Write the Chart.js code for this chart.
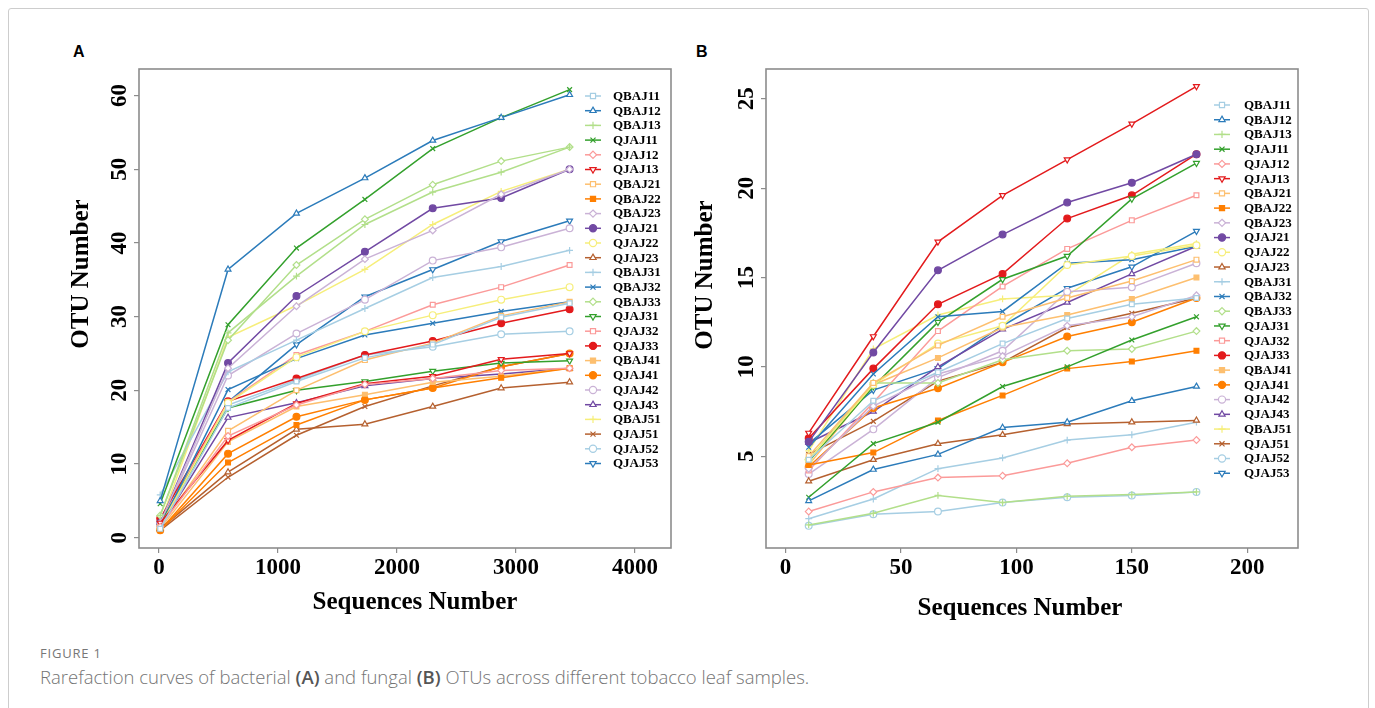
<!DOCTYPE html>
<html>
<head>
<meta charset="utf-8">
<title>Rarefaction curves</title>
<script src="https://cdn.jsdelivr.net/npm/chart.js@4.4.1/dist/chart.umd.min.js"></script>
<style>
  html, body { margin: 0; padding: 0; background: #fff; }
  body { width: 1375px; height: 708px; position: relative; overflow: hidden; font-family: 'Open Sans', sans-serif; }
  .frame { position: absolute; left: 8px; top: 8px; width: 1359px; height: 740px; border: 1px solid #cdcdcd; border-radius: 3px; }
  .tag { position: absolute; top: 42px; font: bold 16px 'Liberation Sans', Arial, sans-serif; color: #000; line-height: 20px; }
  .plot { position: absolute; top: 40px; height: 600px; }
  #wrapA { left: 40px; width: 640px; }
  #wrapB { left: 680px; width: 660px; }
  .fig-no { position: absolute; left: 40px; top: 644px; font-size: 13px; color: #777; letter-spacing: 0.8px; }
  .caption { position: absolute; left: 40px; top: 664px; font-size: 18.5px; color: #747474; font-weight: 300; }
  .caption b { font-weight: 600; color: #555; }
</style>
</head>
<body>
<div class="frame"></div>
<div class="tag" style="left:73px">A</div>
<div class="tag" style="left:696px">B</div>
<div class="plot" id="wrapA"><canvas id="chartA" width="640" height="600"></canvas></div>
<div class="plot" id="wrapB"><canvas id="chartB" width="660" height="600"></canvas></div>
<div class="fig-no">FIGURE 1</div>
<div class="caption">Rarefaction curves of bacterial <b>(A)</b> and fungal <b>(B)</b> OTUs across different tobacco leaf samples.</div>

<script>
const samples = ['QBAJ11', 'QBAJ12', 'QBAJ13', 'QJAJ11', 'QJAJ12', 'QJAJ13', 'QBAJ21', 'QBAJ22', 'QBAJ23',
  'QJAJ21', 'QJAJ22', 'QJAJ23', 'QBAJ31', 'QBAJ32', 'QBAJ33', 'QJAJ31', 'QJAJ32', 'QJAJ33', 'QBAJ41',
  'QJAJ41', 'QJAJ42', 'QJAJ43', 'QBAJ51', 'QJAJ51', 'QJAJ52', 'QJAJ53'];

// bacterial (A): sequencing depth and OTUs per sample, rows follow `samples`
const seqA = [10, 580, 1155, 1730, 2300, 2875, 3450];
const otuA = [
  [1.2, 17.6, 21.2, 24.4, 26.2, 29.9, 31.8],
  [5.0, 36.4, 44.0, 48.8, 53.9, 57.0, 60.1],
  [3.0, 27.8, 35.5, 42.5, 46.9, 49.6, 53.0],
  [4.6, 28.9, 39.3, 45.9, 52.8, 57.0, 60.8],
  [1.5, 13.8, 18.0, 20.8, 21.6, 22.7, 23.0],
  [2.0, 13.2, 18.2, 20.9, 21.9, 24.2, 25.0],
  [1.5, 14.5, 20.0, 24.1, 26.4, 30.1, 32.0],
  [1.0, 10.2, 15.3, 18.7, 20.3, 21.7, 23.0],
  [2.0, 23.0, 31.4, 37.8, 41.7, 46.6, 50.0],
  [2.0, 23.7, 32.8, 38.8, 44.7, 46.1, 50.0],
  [1.5, 18.3, 24.5, 28.0, 30.2, 32.3, 34.0],
  [1.2, 8.9, 14.7, 15.4, 17.8, 20.3, 21.1],
  [5.8, 22.5, 26.8, 31.1, 35.3, 36.8, 39.0],
  [1.5, 20.1, 24.3, 27.5, 29.1, 30.7, 32.0],
  [3.0, 26.8, 37.0, 43.2, 47.9, 51.1, 53.0],
  [2.0, 17.6, 20.0, 21.2, 22.6, 23.7, 24.0],
  [2.0, 18.4, 24.8, 28.0, 31.6, 34.0, 37.0],
  [2.6, 18.5, 21.6, 24.8, 26.7, 29.1, 31.0],
  [1.2, 13.0, 17.8, 19.4, 21.1, 21.9, 23.0],
  [1.0, 11.4, 16.4, 18.7, 20.3, 23.2, 25.0],
  [1.8, 22.0, 27.7, 32.3, 37.6, 39.4, 42.0],
  [1.5, 16.3, 18.3, 20.6, 21.6, 22.2, 23.0],
  [2.0, 27.2, 31.5, 36.4, 42.5, 47.0, 50.0],
  [1.0, 8.2, 13.9, 17.8, 20.6, 23.2, 25.0],
  [1.5, 18.0, 21.4, 24.8, 25.9, 27.6, 28.0],
  [1.5, 18.4, 26.2, 32.7, 36.4, 40.2, 43.0]
];

// fungal (B)
const seqB = [10, 38, 66, 94, 122, 150, 178];
const otuB = [
  [4.8, 8.1, 9.7, 11.3, 12.7, 13.5, 13.85],
  [2.5, 4.25, 5.1, 6.6, 6.9, 8.1, 8.9],
  [1.15, 1.8, 2.8, 2.4, 2.75, 2.85, 3.0],
  [2.7, 5.7, 6.9, 8.9, 10.0, 11.5, 12.8],
  [1.9, 3.0, 3.8, 3.9, 4.6, 5.5, 5.9],
  [6.3, 11.7, 17.0, 19.6, 21.6, 23.6, 25.7],
  [5.0, 9.1, 11.2, 12.8, 13.85, 14.8, 16.0],
  [4.5, 5.2, 7.0, 8.4, 9.9, 10.3, 10.9],
  [4.3, 7.8, 9.6, 10.6, 12.3, 12.8, 14.0],
  [5.8, 10.8, 15.4, 17.4, 19.2, 20.3, 21.9],
  [4.8, 9.0, 11.3, 12.3, 15.7, 16.2, 16.8],
  [3.6, 4.8, 5.7, 6.2, 6.8, 6.9, 7.0],
  [1.5, 2.6, 4.3, 4.9, 5.9, 6.2, 6.9],
  [5.5, 9.6, 12.8, 13.1, 15.8, 16.0, 16.75],
  [4.8, 9.1, 9.1, 10.4, 10.9, 11.0, 12.0],
  [4.7, 8.9, 12.5, 14.9, 16.2, 19.4, 21.4],
  [4.2, 8.0, 12.0, 14.5, 16.6, 18.2, 19.6],
  [6.0, 9.9, 13.5, 15.2, 18.3, 19.6, 21.9],
  [4.5, 9.0, 10.5, 12.2, 12.9, 13.8, 15.0],
  [4.4, 7.7, 8.8, 10.25, 11.7, 12.5, 13.85],
  [4.0, 6.5, 9.4, 10.9, 14.2, 14.45, 15.8],
  [5.75, 7.5, 10.0, 12.1, 13.6, 15.2, 16.75],
  [5.3, 11.0, 12.9, 13.8, 14.0, 16.3, 16.9],
  [5.1, 6.95, 9.2, 10.25, 12.2, 13.0, 13.85],
  [1.1, 1.75, 1.9, 2.4, 2.7, 2.8, 3.0],
  [5.7, 8.7, 9.9, 12.3, 14.4, 15.6, 17.6]
];

const xTicksA = [0, 1000, 2000, 3000, 4000];
const yTicksA = [0, 10, 20, 30, 40, 50, 60];
const xTicksB = [0, 50, 100, 150, 200];
const yTicksB = [5, 10, 15, 20, 25];

// Paired palette, cycled over the samples
const palette = ['#a6cee3', '#2b7bba', '#b2df8a', '#33a02c', '#fb9a99', '#e31a1c',
  '#fdbf6f', '#ff7f00', '#cab2d6', '#7149a3', '#f6ee7a', '#b5602f'];
// [pointStyle, rotation, filled]
const markers = [
  ['rect', 0, false], ['triangle', 0, false], ['cross', 0, false], ['crossRot', 0, false],
  ['rectRot', 0, false], ['triangle', 180, false], ['rect', 0, false], ['rect', 0, true],
  ['rectRot', 0, false], ['circle', 0, true], ['circle', 0, false], ['triangle', 0, false],
  ['cross', 0, false], ['crossRot', 0, false], ['rectRot', 0, false], ['triangle', 180, false],
  ['rect', 0, false], ['circle', 0, true], ['rect', 0, true], ['circle', 0, true],
  ['circle', 0, false], ['triangle', 0, false], ['cross', 0, false], ['crossRot', 0, false],
  ['circle', 0, false], ['triangle', 180, false]
];

const serif = '"Liberation Serif", "Times New Roman", serif';

function drawMarker(ctx, style, rot, r, x, y, color, filled) {
  ctx.save();
  ctx.translate(x, y);
  ctx.rotate(rot * Math.PI / 180);
  ctx.beginPath();
  let closed = true;
  if (style === 'circle') {
    ctx.arc(0, 0, r, 0, Math.PI * 2);
  } else if (style === 'rect') {
    const s = r * Math.SQRT1_2;
    ctx.rect(-s, -s, 2 * s, 2 * s);
  } else if (style === 'rectRot') {
    ctx.moveTo(0, -r); ctx.lineTo(r, 0); ctx.lineTo(0, r); ctx.lineTo(-r, 0); ctx.closePath();
  } else if (style === 'triangle') {
    ctx.moveTo(0, -r); ctx.lineTo(r * 0.87, r * 0.5); ctx.lineTo(-r * 0.87, r * 0.5); ctx.closePath();
  } else {
    closed = false;
    const a = style === 'crossRot' ? Math.PI / 4 : 0;
    for (let k = 0; k < 2; k++) {
      const t = a + k * Math.PI / 2;
      ctx.moveTo(-r * Math.cos(t), -r * Math.sin(t));
      ctx.lineTo(r * Math.cos(t), r * Math.sin(t));
    }
  }
  if (closed) {
    ctx.fillStyle = filled ? color : '#fff';
    ctx.fill();
  }
  ctx.strokeStyle = color;
  ctx.lineWidth = 1.2;
  ctx.stroke();
  ctx.restore();
}

// frame, rotated y labels, axis titles and the line+marker legend
const panelDecor = {
  id: 'panelDecor',
  afterDraw(chart, args, opts) {
    const { ctx, chartArea: a } = chart;
    const y = chart.scales.y;
    ctx.save();
    ctx.strokeStyle = '#8c8c8c';
    ctx.lineWidth = 1.6;
    ctx.strokeRect(a.left, a.top, a.right - a.left, a.bottom - a.top);

    ctx.fillStyle = '#000';
    ctx.textAlign = 'center';
    ctx.textBaseline = 'middle';
    ctx.font = 'bold 23px ' + serif;
    y.ticks.forEach(t => {
      ctx.save();
      ctx.translate(a.left - opts.yLabelGap, y.getPixelForValue(t.value));
      ctx.rotate(-Math.PI / 2);
      ctx.fillText(String(t.value), 0, 0);
      ctx.restore();
    });

    ctx.font = 'bold 25px ' + serif;
    ctx.save();
    ctx.translate(opts.yTitle[0], opts.yTitle[1]);
    ctx.rotate(-Math.PI / 2);
    ctx.fillText('OTU Number', 0, 0);
    ctx.restore();
    ctx.fillText('Sequences Number', opts.xTitle[0], opts.xTitle[1]);

    const lg = opts.legend;
    ctx.font = 'bold 13px ' + serif;
    ctx.textAlign = 'left';
    chart.data.datasets.forEach((ds, i) => {
      const ly = lg.top + i * lg.step;
      ctx.strokeStyle = ds.borderColor;
      ctx.lineWidth = 1.5;
      ctx.beginPath();
      ctx.moveTo(lg.x - 8, ly);
      ctx.lineTo(lg.x + 8, ly);
      ctx.stroke();
      const [style, rot, filled] = markers[i];
      drawMarker(ctx, style, rot, 3.6, lg.x, ly, ds.borderColor, filled);
      ctx.fillStyle = '#000';
      ctx.fillText(ds.label, lg.textX, ly + 0.5);
    });
    ctx.restore();
  }
};

function buildDatasets(seq, rows) {
  return rows.map((vals, i) => {
    const [style, rot, filled] = markers[i];
    const col = palette[i % palette.length];
    return {
      label: samples[i],
      data: vals.map((v, k) => ({ x: seq[k], y: v })),
      borderColor: col,
      backgroundColor: col,
      borderWidth: 1.5,
      tension: 0,
      fill: false,
      pointStyle: style,
      pointRotation: rot,
      pointRadius: 3.4,
      pointBorderWidth: 1.2,
      pointBorderColor: col,
      pointBackgroundColor: filled ? col : '#fff'
    };
  });
}

function makeChart(id, seq, rows, cfg) {
  const gridOpts = { display: true, drawOnChartArea: false, drawTicks: true, tickLength: 5, color: '#8c8c8c', lineWidth: 1.2 };
  return new Chart(document.getElementById(id), {
    type: 'line',
    data: { datasets: buildDatasets(seq, rows) },
    options: {
      responsive: false,
      animation: false,
      events: [],
      layout: { padding: { left: 0, top: 29, right: cfg.padRight, bottom: 0 } },
      plugins: {
        legend: { display: false },
        tooltip: { enabled: false },
        panelDecor: cfg.decor
      },
      scales: {
        x: {
          type: 'linear',
          min: cfg.xMin, max: cfg.xMax,
          afterBuildTicks: s => { s.ticks = cfg.xTicks.map(v => ({ value: v })); },
          afterFit: s => { s.height = 92; },
          grid: gridOpts,
          border: { display: false },
          ticks: {
            font: { family: serif, size: 23, weight: 'bold' }, color: '#000',
            padding: 1, maxRotation: 0, autoSkip: false,
            callback: v => String(v)
          }
        },
        y: {
          type: 'linear',
          min: cfg.yMin, max: cfg.yMax,
          afterBuildTicks: s => { s.ticks = cfg.yTicks.map(v => ({ value: v })); },
          afterFit: s => { s.width = cfg.leftWidth; },
          grid: gridOpts,
          border: { display: false },
          ticks: { display: false }
        }
      }
    },
    plugins: [panelDecor]
  });
}

makeChart('chartA', seqA, otuA, {
  xMin: -168, xMax: 4302, yMin: -1.4, yMax: 63.6,
  xTicks: xTicksA, yTicks: yTicksA,
  leftWidth: 99, padRight: 9,
  decor: { yLabelGap: 19, yTitle: [42, 234], xTitle: [375, 563], legend: { x: 553, textX: 573, top: 56, step: 14.7 } }
});

makeChart('chartB', seqB, otuB, {
  xMin: -8.5, xMax: 222, yMin: -0.14, yMax: 26.67,
  xTicks: xTicksB, yTicks: yTicksB,
  leftWidth: 86, padRight: 42,
  decor: { yLabelGap: 18.5, yTitle: [26, 235], xTitle: [340, 569], legend: { x: 542, textX: 564, top: 65, step: 14.73 } }
});
</script>
</body>
</html>
